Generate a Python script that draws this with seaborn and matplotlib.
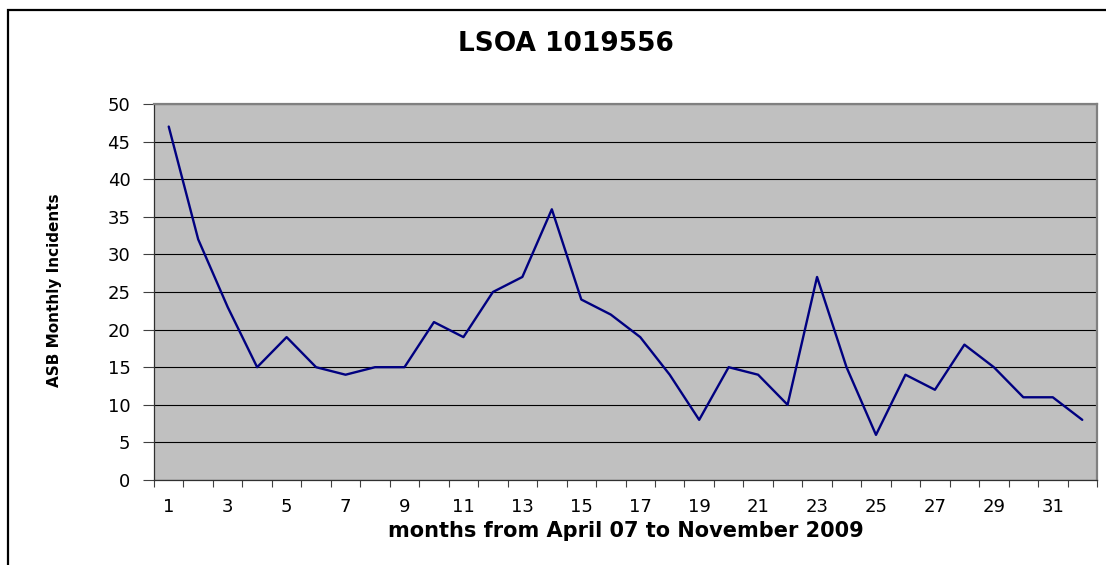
import matplotlib
matplotlib.use("Agg")
import matplotlib.pyplot as plt
import seaborn as sns
import pandas as pd
from matplotlib.patches import Rectangle

months = list(range(1, 33))
incidents = [47, 32, 23, 15, 19, 15, 14, 15, 15, 21, 19, 25, 27, 36, 24, 22,
             19, 14, 8, 15, 14, 10, 27, 15, 6, 14, 12, 18, 15, 11, 11, 8]
y_ticks = [0, 5, 10, 15, 20, 25, 30, 35, 40, 45, 50]
x_labels = [str(m) for m in range(1, 32, 2)]
title = "LSOA 1019556"
x_title = "months from April 07 to November 2009"
y_title = "ASB Monthly Incidents"

df = pd.DataFrame({"month": months, "incidents": incidents})

sns.set_theme(style="white")
plt.rcParams['font.family'] = ['DejaVu Sans']

W, H = 1106, 565
fig = plt.figure(figsize=(W / 100, H / 100), dpi=100)
fig.patch.set_facecolor("white")

ax = fig.add_axes([154 / W, (H - 480) / H, (1097 - 154) / W, (480 - 104) / H])
ax.set_facecolor("#C0C0C0")

sns.lineplot(data=df, x="month", y="incidents", ax=ax, color="#000080",
             linewidth=1.7, zorder=3)

ax.set_xlim(0.5, 32.5)
ax.set_ylim(0, 50)
ax.set_yticks(y_ticks)
ax.set_yticklabels([str(v) for v in y_ticks])
ax.set_xticks(list(range(1, 32, 2)))
ax.set_xticklabels(x_labels)
ax.set_xticks([m + 0.5 for m in range(0, 33)], minor=True)

ax.grid(axis="y", color="black", linewidth=0.8, zorder=1)
ax.grid(axis="x", visible=False)
ax.set_axisbelow(True)

ax.tick_params(axis="y", which="major", direction="out", length=8, width=0.8,
               color="#404040", labelsize=13, labelcolor="black", pad=9, left=True)
ax.tick_params(axis="x", which="major", length=0, labelsize=13, labelcolor="black",
               pad=13, bottom=True)
ax.tick_params(axis="x", which="minor", direction="out", length=5, width=0.8,
               color="#404040", bottom=True)

for s in ["left", "bottom"]:
    ax.spines[s].set_color("#303030")
    ax.spines[s].set_linewidth(0.9)
for s in ["top", "right"]:
    ax.spines[s].set_color("#808080")
    ax.spines[s].set_linewidth(1.6)

ax.set_xlabel("")
ax.set_ylabel("")

fig.text((432 + 700) / 2 / W, 1 - 44 / H, title, ha="center", va="center",
         fontsize=19, fontweight="bold", color="black")
fig.text((322 + 930) / 2 / W, 1 - 531 / H, x_title, ha="center", va="center",
         fontsize=15, fontweight="bold", color="black")
fig.text(55 / W, 1 - 290 / H, y_title, ha="center", va="center", rotation=90,
         fontsize=11, fontweight="bold", color="black")

fig.patches.append(Rectangle((8 / W, -0.1), 1.2, 1.1 - 10 / H,
                             transform=fig.transFigure, fill=False,
                             edgecolor="black", linewidth=1.6, zorder=10))

fig.savefig("out.png", dpi=100, facecolor="white")
